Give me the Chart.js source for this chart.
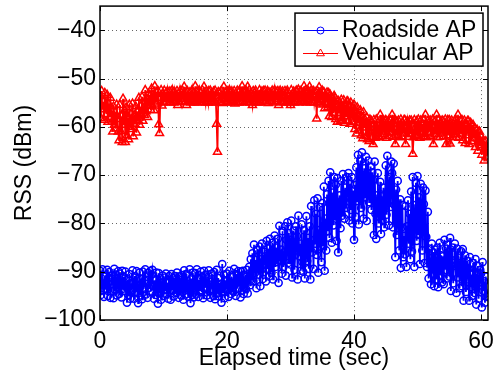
<!DOCTYPE html>
<html><head><meta charset="utf-8">
<script src="https://cdn.jsdelivr.net/npm/chart.js@4.4.1/dist/chart.umd.min.js"></script>
<style>html,body{margin:0;padding:0;background:#fff;}canvas{display:block;}</style>
</head><body>
<canvas id="c" width="498" height="374"></canvas>
<script>
const sampleTimes = [
0,0.125,0.25,0.375,0.5,0.625,0.75,0.875, 1,1.125,1.25,1.375,1.5,1.625,1.75,1.875,
2,2.125,2.25,2.375,2.5,2.625,2.75,2.875, 3,3.125,3.25,3.375,3.5,3.625,3.75,3.875,
4,4.125,4.25,4.375,4.5,4.625,4.75,4.875, 5,5.125,5.25,5.375,5.5,5.625,5.75,5.875,
6,6.125,6.25,6.375,6.5,6.625,6.75,6.875, 7,7.125,7.25,7.375,7.5,7.625,7.75,7.875,
8,8.125,8.25,8.375,8.5,8.625,8.75,8.875, 9,9.125,9.25,9.375,9.5,9.625,9.75,9.875,
10,10.125,10.25,10.375,10.5,10.625,10.75,10.875, 11,11.125,11.25,11.375,11.5,11.625,11.75,11.875,
12,12.125,12.25,12.375,12.5,12.625,12.75,12.875, 13,13.125,13.25,13.375,13.5,13.625,13.75,13.875,
14,14.125,14.25,14.375,14.5,14.625,14.75,14.875, 15,15.125,15.25,15.375,15.5,15.625,15.75,15.875,
16,16.125,16.25,16.375,16.5,16.625,16.75,16.875, 17,17.125,17.25,17.375,17.5,17.625,17.75,17.875,
18,18.125,18.25,18.375,18.5,18.625,18.75,18.875, 19,19.125,19.25,19.375,19.5,19.625,19.75,19.875,
20,20.125,20.25,20.375,20.5,20.625,20.75,20.875, 21,21.125,21.25,21.375,21.5,21.625,21.75,21.875,
22,22.125,22.25,22.375,22.5,22.625,22.75,22.875, 23,23.125,23.25,23.375,23.5,23.625,23.75,23.875,
24,24.125,24.25,24.375,24.5,24.625,24.75,24.875, 25,25.125,25.25,25.375,25.5,25.625,25.75,25.875,
26,26.125,26.25,26.375,26.5,26.625,26.75,26.875, 27,27.125,27.25,27.375,27.5,27.625,27.75,27.875,
28,28.125,28.25,28.375,28.5,28.625,28.75,28.875, 29,29.125,29.25,29.375,29.5,29.625,29.75,29.875,
30,30.125,30.25,30.375,30.5,30.625,30.75,30.875, 31,31.125,31.25,31.375,31.5,31.625,31.75,31.875,
32,32.125,32.25,32.375,32.5,32.625,32.75,32.875, 33,33.125,33.25,33.375,33.5,33.625,33.75,33.875,
34,34.125,34.25,34.375,34.5,34.625,34.75,34.875, 35,35.125,35.25,35.375,35.5,35.625,35.75,35.875,
36,36.125,36.25,36.375,36.5,36.625,36.75,36.875, 37,37.125,37.25,37.375,37.5,37.625,37.75,37.875,
38,38.125,38.25,38.375,38.5,38.625,38.75,38.875, 39,39.125,39.25,39.375,39.5,39.625,39.75,39.875,
40,40.125,40.25,40.375,40.5,40.625,40.75,40.875, 41,41.125,41.25,41.375,41.5,41.625,41.75,41.875,
42,42.125,42.25,42.375,42.5,42.625,42.75,42.875, 43,43.125,43.25,43.375,43.5,43.625,43.75,43.875,
44,44.125,44.25,44.375,44.5,44.625,44.75,44.875, 45,45.125,45.25,45.375,45.5,45.625,45.75,45.875,
46,46.125,46.25,46.375,46.5,46.625,46.75,46.875, 47,47.125,47.25,47.375,47.5,47.625,47.75,47.875,
48,48.125,48.25,48.375,48.5,48.625,48.75,48.875, 49,49.125,49.25,49.375,49.5,49.625,49.75,49.875,
50,50.125,50.25,50.375,50.5,50.625,50.75,50.875, 51,51.125,51.25,51.375,51.5,51.625,51.75,51.875,
52,52.125,52.25,52.375,52.5,52.625,52.75,52.875, 53,53.125,53.25,53.375,53.5,53.625,53.75,53.875,
54,54.125,54.25,54.375,54.5,54.625,54.75,54.875, 55,55.125,55.25,55.375,55.5,55.625,55.75,55.875,
56,56.125,56.25,56.375,56.5,56.625,56.75,56.875, 57,57.125,57.25,57.375,57.5,57.625,57.75,57.875,
58,58.125,58.25,58.375,58.5,58.625,58.75,58.875, 59,59.125,59.25,59.375,59.5,59.625,59.75,59.875,
60,60.125,60.25,60.375,60.5,60.625,60.75,60.875, 61
];
const roadsideRSS = [
-89.8,-94.8,-91.4,-89.5,-93.9,-95.2,-91.0,-92.8, -93.5,-89.6,-95.0,-91.2,-90.1,-95.4,-92.6,-90.8,
-91.5,-95.5,-89.4,-93.8,-90.6,-94.9,-92.0,-89.9, -94.6,-90.4,-92.7,-95.3,-89.8,-93.5,-91.1,-94.0,
-90.0,-93.2,-96.4,-91.6,-94.8,-90.5,-95.6,-92.4, -93.9,-89.7,-92.2,-95.6,-90.9,-94.3,-89.9,-93.0,
-96.5,-92.8,-90.2,-94.9,-91.5,-95.7,-90.0,-93.6, -91.8,-89.5,-94.7,-92.5,-95.4,-90.3,-93.3,-89.9,
-94.1,-90.6,-89.6,-93.0,-95.6,-91.8,-94.8,-90.2, -92.7,-96.6,-90.3,-94.5,-91.4,-95.8,-93.1,-90.8,
-95.0,-91.2,-93.8,-90.4,-94.6,-92.3,-95.6,-90.9, -92.0,-95.8,-90.5,-93.9,-91.3,-95.1,-92.8,-90.9,
-94.4,-90.2,-93.1,-95.4,-91.0,-92.5,-94.9,-90.7, -91.6,-95.8,-89.7,-93.5,-94.7,-90.5,-92.6,-95.2,
-93.0,-89.5,-96.5,-91.4,-94.8,-90.2,-95.3,-92.2, -90.3,-94.7,-89.5,-92.9,-95.2,-91.6,-93.8,-90.0,
-94.2,-91.0,-95.5,-89.8,-93.3,-90.6,-92.4,-94.9, -91.4,-89.7,-94.0,-95.4,-92.1,-90.4,-93.6,-95.0,
-90.1,-95.7,-92.8,-89.6,-94.5,-91.3,-95.1,-93.2, -92.5,-96.4,-88.4,-94.2,-90.6,-95.5,-91.8,-93.7,
-90.4,-93.6,-95.2,-89.8,-92.2,-94.6,-91.0,-93.4, -94.1,-89.4,-92.6,-95.0,-90.5,-93.5,-89.9,-92.0,
-91.2,-95.3,-90.0,-93.9,-89.8,-94.6,-92.4,-90.7, -93.6,-89.6,-94.5,-91.2,-89.0,-92.8,-87.4,-91.8,
-86.2,-92.0,-84.4,-90.3,-87.6,-93.4,-85.5,-89.0, -90.6,-84.8,-93.0,-87.4,-84.2,-91.5,-88.6,-85.9,
-86.8,-92.0,-83.6,-89.5,-85.2,-91.0,-83.2,-88.0, -90.2,-84.0,-91.6,-86.5,-82.5,-89.0,-85.0,-88.0,
-83.2,-92.3,-80.5,-87.6,-85.4,-90.4,-81.6,-89.0, -86.0,-80.6,-90.8,-83.4,-79.8,-88.2,-82.0,-85.6,
-88.5,-79.4,-91.2,-84.0,-81.5,-89.6,-86.5,-80.6, -82.6,-91.6,-78.4,-86.8,-84.2,-89.8,-80.2,-88.0,
-90.0,-81.4,-91.4,-85.0,-78.5,-87.8,-83.0,-89.4, -80.6,-91.6,-76.4,-86.0,-83.5,-89.4,-75.2,-84.2,
-78.0,-86.5,-74.8,-90.2,-81.4,-76.6,-84.8,-88.0, -75.8,-84.5,-72.4,-89.8,-79.0,-85.6,-74.0,-81.6,
-71.2,-83.0,-69.4,-77.8,-84.0,-73.6,-80.4,-70.4, -79.4,-72.0,-83.6,-70.6,-86.0,-76.0,-74.2,-81.0,
-71.2,-78.4,-69.8,-75.0,-79.0,-72.6,-76.8,-70.4, -74.6,-69.6,-79.4,-71.8,-77.2,-70.4,-80.0,-73.2,
-83.4,-72.0,-78.6,-68.4,-75.4,-65.8,-80.2,-69.6, -67.0,-76.8,-65.3,-72.4,-79.0,-68.6,-74.6,-66.2,
-79.5,-70.2,-67.0,-75.6,-72.8,-68.2,-77.2,-69.4, -71.0,-82.4,-67.2,-78.0,-83.2,-74.2,-69.6,-80.0,
-76.8,-71.4,-82.2,-74.4,-79.4,-72.6,-80.8,-75.6, -68.0,-78.2,-66.0,-74.0,-80.4,-70.4,-76.6,-67.2,
-69.6,-80.8,-67.6,-76.2,-87.0,-73.0,-82.4,-71.2, -77.4,-85.6,-75.0,-89.2,-80.8,-76.2,-87.0,-82.6,
-86.4,-76.4,-89.0,-80.6,-75.2,-84.2,-78.0,-87.4, -73.4,-85.8,-70.4,-80.0,-89.0,-76.2,-71.6,-83.6,
-70.2,-82.4,-74.6,-88.4,-71.8,-79.2,-85.6,-72.6, -76.0,-88.2,-73.2,-82.8,-89.0,-77.6,-91.4,-85.2,
-88.0,-92.6,-84.2,-90.4,-86.0,-93.0,-85.4,-89.2, -91.6,-85.0,-93.2,-88.4,-84.0,-90.8,-86.6,-92.2,
-86.8,-92.6,-83.4,-89.6,-85.2,-91.4,-84.4,-88.2, -91.0,-83.0,-94.0,-87.6,-85.0,-92.4,-88.8,-84.2,
-88.0,-94.4,-85.2,-91.2,-86.8,-93.4,-89.6,-85.8, -93.0,-85.3,-96.0,-89.0,-86.6,-94.2,-91.6,-87.8,
-89.4,-96.0,-87.0,-93.2,-90.6,-95.0,-88.2,-92.0, -94.4,-87.4,-96.8,-90.6,-88.8,-95.6,-92.2,-89.6,
-90.4,-97.4,-88.0,-94.0,-92.0,-96.4,-91.0,-95.2, -95.0
];
const vehicularRSS = [
-53.6,-58.2,-52.6,-56.4,-54.8,-58.6,-53.0,-55.8, -57.4,-53.4,-59.0,-55.2,-58.0,-54.0,-56.6,-59.0,
-61.0,-55.8,-59.6,-57.0,-60.4,-55.4,-58.4,-61.0, -62.8,-55.5,-60.9,-57.8,-63.2,-54.2,-59.6,-56.6,
-63.2,-56.0,-61.8,-58.2,-62.6,-55.4,-60.0,-57.4, -60.5,-55.2,-62.0,-57.6,-59.4,-55.8,-61.2,-56.8,
-58.6,-54.0,-59.6,-55.8,-57.4,-53.8,-58.8,-56.2, -57.6,-52.4,-56.8,-54.2,-58.0,-53.1,-55.6,-53.6,
-56.5,-52.1,-55.6,-53.4,-56.6,-51.6,-54.8,-52.8, -55.2,-52.6,-59.5,-61.3,-54.0,-52.4,-55.6,-53.2,
-55.0,-52.5,-54.2,-53.0,-54.8,-52.6,-53.8,-55.0, -52.7,-54.9,-53.4,-52.4,-54.4,-55.0,-52.8,-54.0,
-54.6,-52.6,-55.5,-53.2,-54.9,-52.5,-53.6,-54.8, -52.5,-54.3,-51.7,-54.9,-53.0,-55.5,-52.6,-54.6,
-54.8,-52.9,-55.0,-53.5,-52.4,-54.6,-53.1,-55.0, -51.6,-54.7,-52.7,-55.0,-53.4,-52.5,-54.9,-53.0,
-54.5,-52.4,-54.9,-51.7,-53.8,-55.0,-52.6,-54.2, -55.0,-52.6,-54.0,-52.5,-54.8,-53.2,-55.0,-52.7,
-54.6,-52.5,-55.0,-59.4,-65.2,-52.8,-54.4,-53.0, -54.9,-52.5,-55.1,-53.4,-51.7,-54.6,-52.9,-55.0,
-52.6,-54.8,-53.2,-52.4,-55.0,-53.8,-52.7,-54.5, -54.7,-52.6,-55.2,-53.1,-54.9,-52.5,-53.9,-55.0,
-52.5,-54.9,-53.0,-51.6,-54.8,-52.8,-55.0,-53.5, -52.6,-54.6,-51.7,-54.9,-52.4,-55.0,-53.2,-54.4,
-55.5,-52.6,-54.8,-53.0,-52.5,-54.9,-53.6,-55.0, -54.9,-52.4,-55.0,-53.3,-52.7,-54.6,-52.6,-54.0,
-52.5,-54.8,-53.4,-52.6,-55.1,-52.9,-54.7,-53.0, -54.7,-52.5,-55.0,-53.6,-52.4,-54.8,-52.8,-54.3,
-52.6,-55.5,-53.0,-52.5,-54.9,-53.4,-52.7,-55.0, -54.8,-52.6,-55.0,-53.1,-52.5,-54.7,-53.7,-55.0,
-55.5,-52.4,-54.9,-53.2,-52.7,-55.0,-53.5,-52.6, -52.5,-54.8,-52.3,-55.0,-53.6,-52.6,-54.6,-53.0,
-54.9,-51.6,-54.7,-52.4,-55.0,-53.2,-52.5,-54.5, -51.7,-55.0,-52.5,-54.8,-53.3,-52.6,-55.0,-53.8,
-52.8,-58.3,-52.6,-54.9,-51.8,-55.2,-53.0,-54.6, -52.5,-55.4,-52.8,-56.2,-53.4,-55.0,-52.9,-56.0,
-53.0,-57.8,-53.4,-56.0,-58.0,-54.2,-57.2,-53.6, -54.0,-58.4,-55.6,-59.0,-54.6,-57.2,-55.0,-58.8,
-54.4,-58.8,-56.2,-54.5,-59.2,-55.4,-57.8,-54.8, -54.7,-58.8,-55.8,-59.4,-55.0,-57.4,-56.2,-59.0,
-55.4,-60.5,-56.8,-61.4,-56.0,-59.2,-57.6,-60.8, -56.6,-61.8,-58.0,-62.4,-57.0,-60.2,-58.6,-62.0,
-58.0,-62.6,-59.4,-63.0,-58.5,-61.0,-58.8,-62.2, -63.6,-58.6,-60.8,-62.3,-58.5,-61.4,-59.2,-62.0,
-62.2,-57.5,-60.4,-62.0,-58.7,-59.6,-61.6,-58.8, -58.6,-62.3,-59.8,-58.8,-61.9,-60.4,-58.7,-61.2,
-57.5,-62.1,-59.4,-58.6,-63.6,-60.6,-58.9,-61.8, -58.7,-62.2,-60.0,-58.5,-62.0,-59.2,-61.4,-58.6,
-58.6,-63.6,-59.8,-58.8,-62.1,-60.5,-58.7,-61.6, -58.7,-61.4,-65.6,-62.2,-58.6,-60.2,-61.8,-58.8,
-62.0,-58.5,-60.6,-62.3,-58.7,-61.0,-59.4,-62.0, -58.6,-62.1,-57.5,-60.4,-62.2,-58.8,-61.2,-59.0,
-58.7,-62.0,-59.6,-58.5,-63.6,-60.2,-58.8,-61.6, -57.5,-62.2,-58.6,-60.8,-62.1,-59.0,-61.4,-58.7,
-58.8,-62.0,-59.8,-58.5,-63.6,-60.4,-58.6,-61.8, -58.6,-63.5,-60.2,-58.7,-62.2,-59.4,-61.6,-58.9,
-58.5,-62.1,-59.6,-57.5,-62.3,-60.8,-58.7,-61.4, -58.6,-62.8,-60.0,-58.7,-63.4,-59.6,-61.8,-58.8,
-58.8,-63.6,-60.4,-59.2,-63.0,-61.2,-59.6,-62.4, -60.3,-64.2,-61.6,-60.6,-65.0,-62.4,-61.0,-63.8,
-62.0,-65.8,-63.4,-62.8,-67.0,-64.2,-63.0,-66.2, -64.5
];
const seriesNames = ['Roadside AP', 'Vehicular AP'];
const xTicks = [0, 20, 40, 60];
const xTickLabels = ['0', '20', '40', '60'];
const yTicks = [-100, -90, -80, -70, -60, -50, -40];
const yTickLabels = ['\u2212100', '\u221290', '\u221280', '\u221270', '\u221260', '\u221250', '\u221240'];
const xTitle = 'Elapsed time (sec)';
const yTitle = 'RSS (dBm)';

const FONT = '"Liberation Sans", Arial, Helvetica, sans-serif';
Chart.defaults.font.family = FONT;
Chart.defaults.color = '#000';

const BLUE = '#0000ff', RED = '#ff0000';

function drawMarker(ctx, style, x, y, r, color) {
  ctx.save();
  ctx.strokeStyle = color; ctx.lineWidth = 1; ctx.setLineDash([]);
  ctx.beginPath();
  if (style === 'circle') {
    ctx.arc(x, y, r, 0, Math.PI * 2);
  } else {
    let rad = 0;
    ctx.moveTo(x + Math.sin(rad) * r, y - Math.cos(rad) * r);
    rad += 2 * Math.PI / 3;
    ctx.lineTo(x + Math.sin(rad) * r, y - Math.cos(rad) * r);
    rad += 2 * Math.PI / 3;
    ctx.lineTo(x + Math.sin(rad) * r, y - Math.cos(rad) * r);
    ctx.closePath();
  }
  ctx.stroke();
  ctx.restore();
}

const framePlugin = {
  id: 'matlabFrame',
  beforeDatasetsDraw(chart) {
    const {ctx, chartArea: a, scales} = chart;
    ctx.save();
    ctx.strokeStyle = 'rgba(0,0,0,0.6)'; ctx.lineWidth = 1; ctx.setLineDash([1, 3]);
    ctx.beginPath();
    scales.x.ticks.forEach(t => {
      const p = Math.round(scales.x.getPixelForValue(t.value)) + 0.5;
      if (p > a.left + 2 && p < a.right - 2) { ctx.moveTo(p, a.top); ctx.lineTo(p, a.bottom); }
    });
    scales.y.ticks.forEach(t => {
      const p = Math.round(scales.y.getPixelForValue(t.value)) + 0.5;
      if (p > a.top + 2 && p < a.bottom - 2) { ctx.moveTo(a.left, p); ctx.lineTo(a.right, p); }
    });
    ctx.stroke();
    ctx.restore();
  },
  afterDatasetsDraw(chart) {
    const {ctx, chartArea: a, scales} = chart;
    ctx.save();
    ctx.setLineDash([]);
    ctx.strokeStyle = '#000'; ctx.lineWidth = 1.5;
    ctx.strokeRect(a.left, a.top, a.right - a.left, a.bottom - a.top);
    ctx.lineWidth = 1;
    const tl = 5;
    ctx.beginPath();
    scales.x.ticks.forEach(t => {
      const p = Math.round(scales.x.getPixelForValue(t.value)) + 0.5;
      ctx.moveTo(p, a.bottom); ctx.lineTo(p, a.bottom - tl);
      ctx.moveTo(p, a.top); ctx.lineTo(p, a.top + tl);
    });
    scales.y.ticks.forEach(t => {
      const p = Math.round(scales.y.getPixelForValue(t.value)) + 0.5;
      ctx.moveTo(a.left, p); ctx.lineTo(a.left + tl, p);
      ctx.moveTo(a.right, p); ctx.lineTo(a.right - tl, p);
    });
    ctx.stroke();

    // legend box
    const bw = 188, bh = 53;
    const bx = a.right - 5 - bw, by = a.top + 7;
    ctx.fillStyle = '#fff';
    ctx.fillRect(bx, by, bw, bh);
    ctx.strokeStyle = '#000'; ctx.lineWidth = 1.5;
    ctx.strokeRect(bx, by, bw, bh);
    const rows = [
      {name: seriesNames[0], color: BLUE, style: 'circle', r: 3.5, y: by + 16.5},
      {name: seriesNames[1], color: RED, style: 'triangle', r: 4.5, y: by + 39.5}
    ];
    ctx.font = '23px ' + FONT;
    ctx.textBaseline = 'middle';
    ctx.textAlign = 'left';
    rows.forEach(r => {
      ctx.strokeStyle = r.color; ctx.lineWidth = 1;
      ctx.beginPath();
      ctx.moveTo(bx + 8, Math.round(r.y) + 0.5); ctx.lineTo(bx + 43, Math.round(r.y) + 0.5);
      ctx.stroke();
      drawMarker(ctx, r.style, bx + 25.5, Math.round(r.y) + 0.5, r.r, r.color);
      ctx.fillStyle = '#000';
      ctx.fillText(r.name, bx + 47, r.y + 1);
    });
    ctx.restore();
  }
};

new Chart(document.getElementById('c'), {
  type: 'line',
  data: {
    datasets: [
      {
        label: seriesNames[0],
        data: sampleTimes.map((t, i) => ({x: t, y: roadsideRSS[i]})),
        borderColor: BLUE, borderWidth: 1.8, tension: 0, fill: false,
        pointStyle: 'circle', pointRadius: 3.6, pointBorderWidth: 1.5,
        pointBorderColor: BLUE, pointBackgroundColor: 'rgba(0,0,0,0)'
      },
      {
        label: seriesNames[1],
        data: sampleTimes.map((t, i) => ({x: t, y: vehicularRSS[i]})),
        borderColor: RED, borderWidth: 1.8, tension: 0, fill: false,
        pointStyle: 'triangle', pointRadius: 4.6, pointBorderWidth: 1.5,
        pointBorderColor: RED, pointBackgroundColor: 'rgba(0,0,0,0)'
      }
    ]
  },
  options: {
    responsive: false,
    animation: false,
    events: [],
    layout: {padding: {top: 6, right: 10, left: 0, bottom: 0}},
    plugins: {legend: {display: false}, tooltip: {enabled: false}},
    scales: {
      x: {
        type: 'linear', min: 0, max: 61.1,
        grid: {display: false, drawTicks: false}, border: {display: false},
        ticks: {
          includeBounds: false, autoSkip: false, maxRotation: 0, padding: 8,
          color: '#000', font: {size: 23},
          callback: (v) => { const i = xTicks.indexOf(v); return i >= 0 ? xTickLabels[i] : ''; }
        },
        afterBuildTicks: (s) => { s.ticks = xTicks.map(v => ({value: v})); },
        afterFit: (s) => { s.height = 54; s.paddingLeft = 0; s.paddingRight = 0; s.paddingTop = 0; s.paddingBottom = 0; },
        title: {display: true, text: xTitle, color: '#000', font: {size: 23}, padding: {top: 0, bottom: 2}}
      },
      y: {
        type: 'linear', min: -100, max: -35,
        grid: {display: false, drawTicks: false}, border: {display: false},
        ticks: {
          includeBounds: false, autoSkip: false, padding: 4,
          color: '#000', font: {size: 23},
          callback: (v) => { const i = yTicks.indexOf(v); return i >= 0 ? yTickLabels[i] : ''; }
        },
        afterBuildTicks: (s) => { s.ticks = yTicks.map(v => ({value: v})); },
        afterFit: (s) => { s.width = 100; s.paddingTop = 0; s.paddingBottom = 0; s.paddingLeft = 0; s.paddingRight = 0; },
        title: {display: true, text: yTitle, color: '#000', font: {size: 23}, padding: {top: 11, bottom: 0}}
      }
    }
  },
  plugins: [framePlugin]
});
</script>
</body></html>
